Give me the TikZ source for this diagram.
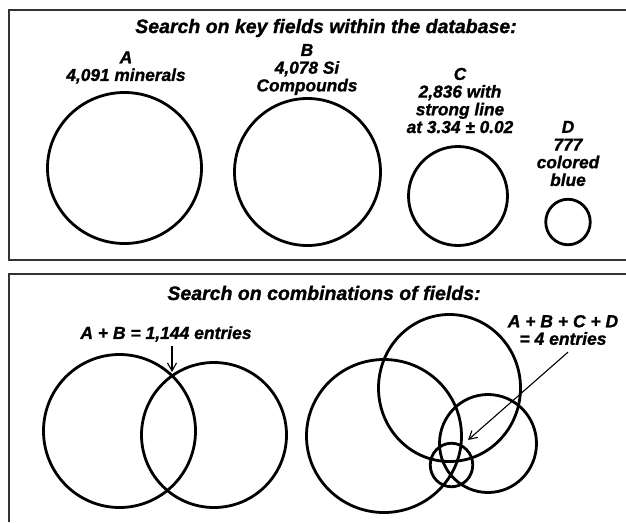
\documentclass[tikz,border=0pt]{standalone}
\usepackage{fontspec}
\setmainfont{Liberation Sans}[BoldItalicFeatures={FakeBold=1.2}]
\usetikzlibrary{shapes.geometric,arrows.meta}
\begin{document}
\begin{tikzpicture}[x=1pt,y=-1pt,
  ring/.style={draw, ellipse, line width=2.8pt, inner sep=0pt, outer sep=0pt},
  frame/.style={line width=1.3pt, draw=black!80},
  lbl/.style={font=\bfseries\itshape\fontsize{17.3}{17.7}\selectfont, align=center, inner sep=0pt},
  blbl/.style={font=\bfseries\itshape\fontsize{17.5}{17.5}\selectfont, align=center, inner sep=0pt},
  ttl/.style={font=\bfseries\itshape\fontsize{19.5}{22}\selectfont, inner sep=0pt},
  pointer/.style={line width=1.1pt, -{Straight Barb[length=8pt,width=9pt]}}]
\useasboundingbox (0,0) rectangle (626,522);
\fill[white] (0,0) rectangle (626,522);
% frames
\draw[frame] (626,10) -- (9,10) -- (9,260) -- (626,260);
\draw[frame] (626,274) -- (9,274) -- (9,522);
% titles
\node[ttl] (t1) at (326,28) {Search on key fields within the database:};
\node[ttl] (t2) at (324,293) {Search on combinations of fields:};
% top labels
\node[lbl] (la) at (126,67.5) {A\\4,091 minerals};
\node[lbl] (lb) at (307,69.5) {B\\4,078 Si\\Compounds};
\node[lbl] (lc) at (460,100.5) {C\\2,836 with\\strong line\\at 3.34 ± 0.02};
\node[lbl] (ld) at (568,153.5) {D\\777\\colored\\blue};
% top circles
\node[ring, minimum width=154pt, minimum height=151pt] (ca) at (124.5,168) {};
\node[ring, minimum width=146pt, minimum height=147pt] (cb) at (307.5,172) {};
\node[ring, minimum width=99pt, minimum height=99pt] (cc) at (458,196) {};
\node[ring, minimum width=44.5pt, minimum height=45.5pt] (cd) at (568,222) {};
% bottom left
\node[ring, minimum width=152pt, minimum height=153pt] (l1) at (119.5,431) {};
\node[ring, minimum width=145pt, minimum height=145pt] (l2) at (214,435) {};
\node[blbl] (lab) at (166,334) {A + B = 1,144 entries};
\coordinate (x1) at (172,372);
\draw[pointer] ([yshift=-4pt]lab.south -| x1) -- (x1);
% bottom right
\node[ring, minimum width=155pt, minimum height=153pt] (ra) at (384,436) {};
\node[ring, minimum width=142pt, minimum height=147pt] (rb) at (449.5,388) {};
\node[ring, minimum width=97pt, minimum height=98pt] (rc) at (488,443.5) {};
\node[ring, minimum width=42.5pt, minimum height=43.5pt] (rd) at (451.5,465) {};
\node[blbl] (lr) at (563,330) {A + B + C + D\\= 4 entries};
\coordinate (x2) at (468,440);
\draw[pointer] ([xshift=5pt,yshift=-7pt]lr.south) -- (x2);
\end{tikzpicture}
\end{document}
